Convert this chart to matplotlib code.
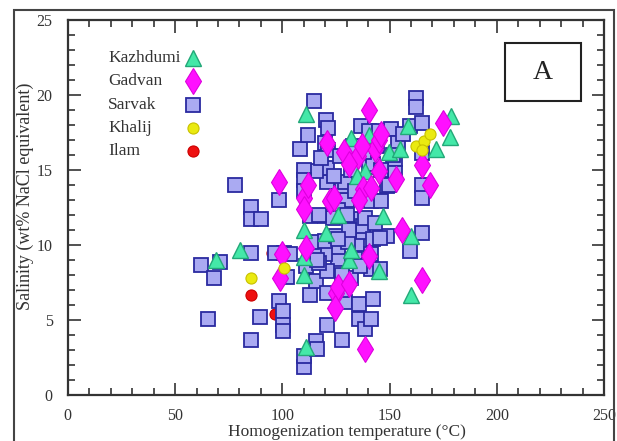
import matplotlib
matplotlib.use("Agg")
import matplotlib.pyplot as plt
from matplotlib.patches import Rectangle
from matplotlib.ticker import MultipleLocator

plt.rcParams['font.family'] = ['Liberation Serif', 'DejaVu Serif']

# Homogenization temperature (C), salinity (wt% NaCl eq.)
sarvak_x = [78, 85.6, 85.6, 90, 98.4, 85.6, 62.3, 71, 68, 65.4, 85.6, 89.6, 98.4, 100.5,
            100.2, 100.2, 102, 101, 96.5, 103.5, 110, 110, 115.7, 116, 121, 127.6, 113,
            115.7, 121, 129, 135.8, 135.8, 138.6, 141.3, 142.2, 141.3, 132, 125.8, 125.8,
            121, 120, 114.8, 111, 134.9, 137.6, 136.7, 141.3, 148.6, 148.6, 141.3, 146,
            130, 127.6, 121, 121, 115.7, 110, 110, 110, 113, 120, 125.8, 108.4, 112, 114.8,
            120.3, 121.3, 120, 121.4, 126.7, 136.7, 140.3, 145, 150.5, 152.3, 152.3, 149.5,
            159.6, 162.3, 162.3, 165, 165, 165, 165, 165, 159.6, 154, 133, 140.3, 130.7,
            133.9, 123.7, 127.6, 137.7, 113.6, 119.9, 129.2, 156.4, 142.4, 151.7, 138.5,
            142.4, 145.5, 117, 125, 131, 117, 128, 143, 146, 134, 130, 145.5,
            118, 124, 132, 138, 126, 116, 144, 136]
sarvak_y = [14.0, 12.5, 11.7, 11.7, 13.0, 9.5, 8.7, 8.9, 7.8, 5.1, 3.7, 5.2, 6.3, 5.6,
            4.7, 4.3, 7.9, 9.5, 9.5, 9.4, 1.9, 2.6, 3.6, 3.1, 4.7, 3.7, 6.7,
            7.6, 6.8, 6.2, 6.1, 5.1, 4.4, 5.1, 6.4, 8.4, 7.8, 9.1, 9.9,
            8.3, 9.4, 9.4, 8.6, 10.1, 10.9, 11.7, 9.4, 10.6, 13.9, 12.9, 12.9,
            13.0, 13.9, 14.2, 15.1, 14.9, 15.0, 14.3, 13.6, 11.9, 11.9, 12.3, 16.4, 17.3, 19.6,
            18.3, 17.8, 16.8, 16.3, 15.9, 17.9, 17.6, 17.6, 17.7, 15.7, 14.8, 14.0,
            17.9, 19.8, 19.2, 18.1, 16.1, 14.0, 13.1, 10.8, 9.6, 16.8, 16.6, 15.2, 10.2,
            9.1, 11.8, 7.0, 11.3, 10.2, 10.3, 14.2, 17.4, 15.4, 16.0, 11.8,
            10.4, 8.4, 12.0, 10.6, 11.0, 8.8, 8.0, 11.5, 15.0, 13.6, 12.0, 10.5,
            15.8, 14.6, 15.0, 16.2, 10.4, 9.0, 16.6, 8.6]

kazhdumi_x = [69, 80.4, 110.8, 110, 110, 110.8, 110, 120.3, 132.2, 138.6, 140.3, 146.8,
              145, 149.5, 155, 158.7, 160, 160, 171.5, 178.8, 178.4, 131, 132, 135, 126]
kazhdumi_y = [9.0, 9.7, 18.7, 11.0, 8.0, 3.2, 9.2, 10.8, 17.1, 14.9, 17.3, 11.9,
              8.3, 16.2, 16.4, 17.9, 6.7, 10.6, 16.4, 18.6, 17.2, 9.0, 9.7, 14.6, 12.0]

gadvan_x = [98.4, 99.8, 98.7, 111, 110, 110, 112, 120.7, 122, 124, 128.8, 124.9, 125.8,
            124.4, 131, 135.3, 140.3, 137.6, 141.3, 140.3, 138.6, 143, 145, 146, 145,
            153, 156, 165, 165, 169, 174.8, 131, 135.8, 137]
gadvan_y = [14.2, 9.4, 7.8, 9.8, 13.1, 12.4, 14.0, 16.8, 12.9, 13.1, 16.2, 6.8, 7.2,
            5.8, 7.4, 15.9, 19.0, 13.7, 13.8, 9.3, 3.1, 16.4, 17.0, 17.4, 14.9,
            14.4, 11.0, 15.3, 7.7, 14.0, 18.1, 15.4, 13.0, 16.6]

khalij_x = [85.6, 101, 162.3, 166, 168.7, 165]
khalij_y = [7.8, 8.5, 16.6, 16.9, 17.4, 16.3]

ilam_x = [85.6, 95, 96.5]
ilam_y = [6.7, 9.5, 5.4]

styles = {
    'Kazhdumi': dict(marker='^', ms=11, mfc='#44e8a8', mec='#22a878', mew=1.0),
    'Gadvan': dict(marker='d', ms=13, mfc='#ff10ff', mec='#dd00dd', mew=0.8),
    'Sarvak': dict(marker='s', ms=10, mfc='#aaaaf2', mec='#2a2aa0', mew=1.3),
    'Khalij': dict(marker='o', ms=8, mfc='#eaea10', mec='#c8c000', mew=0.8),
    'Ilam': dict(marker='o', ms=8, mfc='#ee1010', mec='#cc0000', mew=0.8),
}

fig = plt.figure(figsize=(6.17, 4.41), dpi=100)
ax = fig.add_axes([0.110, 0.104, 0.869, 0.851])

ax.plot(ilam_x, ilam_y, ls='none', zorder=2, **styles['Ilam'])
ax.plot(sarvak_x, sarvak_y, ls='none', zorder=3, **styles['Sarvak'])
ax.plot(kazhdumi_x, kazhdumi_y, ls='none', zorder=4, **styles['Kazhdumi'])
ax.plot(gadvan_x, gadvan_y, ls='none', zorder=5, **styles['Gadvan'])
ax.plot(khalij_x, khalij_y, ls='none', zorder=6, **styles['Khalij'])

ax.set_xlim(0, 250)
ax.set_ylim(0, 25)
ax.xaxis.set_major_locator(MultipleLocator(50))
ax.xaxis.set_minor_locator(MultipleLocator(10))
ax.yaxis.set_major_locator(MultipleLocator(5))
ax.yaxis.set_minor_locator(MultipleLocator(1))
ax.tick_params(which='both', direction='in', top=True, right=True, colors='#333333',
               labelsize=11.5, width=1.2)
ax.tick_params(which='major', length=9)
ax.tick_params(which='minor', length=5)
ax.tick_params(axis='x', pad=9)
ax.tick_params(axis='y', pad=11)
for s in ax.spines.values():
    s.set_linewidth(1.6)
    s.set_color('#333333')

ax.set_xlabel('Homogenization temperature (\u00b0C)', fontsize=12.5, color='#333333')
ax.set_ylabel('Salinity (wt% NaCl equivalent)', fontsize=13, color='#333333')
ax.xaxis.set_label_coords(0.52, -0.077)
ax.yaxis.set_label_coords(-0.063, 0.53)

# legend: labels left aligned, symbols in a column to the right
names = ['Kazhdumi', 'Gadvan', 'Sarvak', 'Khalij', 'Ilam']
for i, n in enumerate(names):
    yy = 0.898 - i * 0.062
    ax.text(0.075, yy, n, transform=ax.transAxes, ha='left', va='center', fontsize=12.5,
            color='#333333')
    ax.plot([0.233], [yy], transform=ax.transAxes, ls='none', clip_on=False, **styles[n])

ax.add_patch(Rectangle((0.815, 0.784), 0.142, 0.155, transform=ax.transAxes, fill=False,
                       lw=1.5, ec='#222222', zorder=7))
ax.text(0.886, 0.861, 'A', transform=ax.transAxes, ha='center', va='center', fontsize=20,
        color='#222222')

fig.add_artist(Rectangle((0.023, -0.1), 0.972, 1.077, transform=fig.transFigure, fill=False,
                         lw=1.5, ec='#444444'))

fig.savefig('out.png', dpi=100)
